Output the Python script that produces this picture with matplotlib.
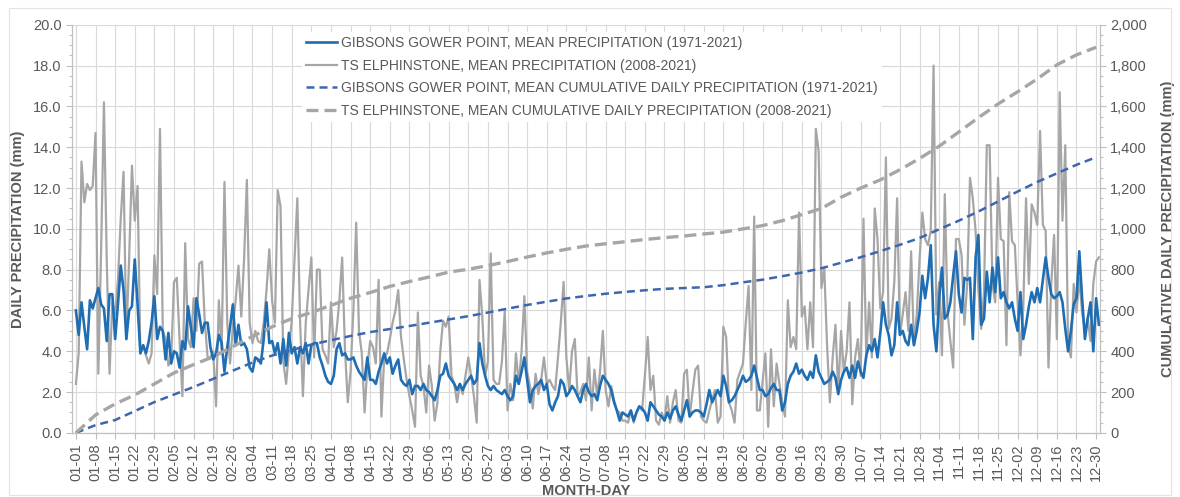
import numpy as np
import matplotlib
matplotlib.use("Agg")
import matplotlib.pyplot as plt
from matplotlib.ticker import MultipleLocator, FuncFormatter
from matplotlib.patches import Rectangle

plt.rcParams['font.family'] = ['Liberation Sans', 'DejaVu Sans']

##### data #####

# mean daily precipitation (mm), 366 days (01-01 .. 12-31, leap year)
gibsons_daily = [
    6.0, 4.8, 6.4, 5.2, 4.1, 6.5, 6.1,
    6.6, 7.1, 6.3, 6.1, 4.5, 6.8, 6.8,
    4.6, 6.3, 8.2, 7.0, 4.6, 6.0, 6.2,
    8.5, 6.3, 3.9, 4.3, 3.9, 4.5, 5.4,
    6.7, 4.6, 5.2, 5.0, 3.6, 4.9, 3.4,
    4.0, 3.9, 3.2, 4.5, 4.1, 6.2, 5.2,
    4.2, 6.6, 5.8, 4.9, 5.4, 5.4, 4.2,
    3.6, 3.9, 4.8, 4.4, 3.0, 4.2, 5.2,
    6.3, 4.3, 5.3, 4.3, 4.4, 4.1, 3.2,
    3.0, 3.7, 3.6, 3.4, 4.6, 6.4, 4.4,
    4.5, 3.9, 4.4, 3.4, 4.6, 3.3, 4.9,
    3.9, 4.2, 3.4, 4.2, 3.9, 4.4, 3.4,
    4.3, 4.4, 4.4, 3.7, 3.3, 2.8, 2.5,
    2.4, 2.8, 4.1, 4.4, 3.8, 3.9, 3.6,
    3.6, 3.7, 3.3, 3.0, 2.8, 2.6, 3.7,
    2.6, 2.6, 2.4, 3.0, 3.4, 3.9, 3.4,
    3.7, 2.9, 3.3, 3.6, 2.6, 2.4, 2.3,
    2.6, 1.9, 2.3, 2.3, 2.1, 2.4, 2.1,
    2.0, 1.8, 1.6, 2.1, 2.8, 2.9, 3.4,
    2.8, 2.6, 2.4, 2.1, 2.4, 2.1, 2.4,
    2.6, 2.8, 2.4, 2.6, 4.4, 3.4, 2.8,
    2.3, 2.1, 2.3, 2.1, 2.0, 1.9, 2.1,
    1.8, 1.6, 1.8, 2.8, 2.4, 3.0, 3.7,
    2.6, 1.5, 2.1, 2.3, 2.4, 2.6, 2.1,
    2.4, 1.4, 1.1, 1.5, 1.8, 2.6, 2.4,
    1.8, 2.0, 2.3, 2.1, 1.8, 1.5, 2.1,
    2.4, 2.0, 1.8, 1.9, 1.6, 2.3, 2.8,
    2.6, 2.4, 2.1, 1.5, 1.1, 0.6, 1.0,
    0.9, 0.8, 1.1, 0.6, 1.0, 1.3, 1.2,
    1.0, 0.6, 1.5, 1.3, 1.1, 0.9, 0.8,
    0.6, 1.0, 0.7, 1.1, 1.3, 0.9, 0.6,
    1.1, 1.6, 0.8, 1.0, 1.1, 1.1, 1.0,
    0.8, 1.4, 2.1, 1.5, 1.8, 2.1, 1.8,
    2.8, 2.3, 1.5, 1.6, 1.8, 2.1, 2.4,
    2.8, 2.5, 2.6, 2.8, 3.3, 2.7, 2.1,
    2.1, 1.8, 1.9, 2.2, 2.4, 2.1, 2.1,
    1.1, 1.5, 2.4, 2.8, 3.0, 3.4, 2.9,
    3.1, 2.8, 2.6, 3.0, 2.7, 3.8, 3.0,
    2.7, 2.4, 2.5, 2.6, 3.0, 2.7, 1.9,
    2.6, 3.0, 3.2, 2.7, 3.3, 2.7, 3.5,
    3.0, 2.7, 3.8, 4.3, 4.0, 4.6, 3.7,
    4.9, 6.4, 5.3, 4.8, 3.8, 4.3, 6.4,
    4.8, 5.0, 4.5, 4.3, 5.3, 4.3, 5.0,
    5.9, 7.7, 6.6, 7.6, 9.2, 5.3, 4.0,
    6.6, 8.1, 5.6, 5.8, 6.4, 7.7, 8.9,
    6.8, 5.9, 7.6, 7.5, 7.6, 4.6, 8.6,
    9.7, 5.3, 5.6, 7.9, 6.4, 8.1, 6.9,
    8.6, 6.6, 6.9, 6.4, 6.1, 6.4, 5.6,
    5.0, 6.9, 4.6, 5.3, 6.2, 6.9, 6.4,
    7.1, 6.4, 7.5, 8.6, 7.6, 6.8, 6.6,
    6.7, 6.9, 6.4, 5.1, 4.0, 5.0, 6.3,
    6.6, 8.9, 6.6, 4.6, 5.6, 6.4, 4.0,
    6.6, 5.3,
]

elphinstone_daily = [
    2.4, 3.9, 13.3, 11.3, 12.2, 11.9, 12.1,
    14.7, 2.9, 9.0, 16.2, 8.5, 2.9, 6.4,
    5.8, 7.5, 10.5, 12.8, 4.6, 8.6, 13.1,
    10.4, 12.1, 3.9, 4.3, 3.8, 3.4, 3.9,
    8.7, 6.8, 14.9, 5.0, 4.6, 3.3, 3.6,
    7.4, 7.6, 4.5, 1.8, 9.3, 4.6, 4.2,
    6.6, 5.0, 8.3, 8.4, 5.4, 3.7, 3.7,
    4.0, 1.3, 6.5, 4.0, 12.3, 5.4, 3.4,
    5.2, 6.5, 8.2, 5.7, 8.5, 12.4, 5.4,
    4.4, 5.0, 4.5, 4.4, 5.4, 7.0, 9.0,
    6.5, 5.4, 11.9, 11.1, 3.5, 2.4, 4.0,
    5.5, 8.5, 11.5, 5.4, 1.8, 5.4, 7.0,
    8.6, 3.7, 8.0, 8.0, 4.1, 3.8, 3.4,
    6.4, 4.2, 5.0, 6.5, 8.6, 4.1, 1.5,
    3.0, 6.0, 10.3, 5.0, 3.9, 1.0, 3.3,
    4.5, 4.2, 3.4, 7.5, 0.8, 3.7, 3.9,
    4.6, 5.4, 6.0, 7.0, 4.7, 3.6, 2.6,
    1.8, 1.1, 0.3, 5.9, 2.8, 2.3, 1.0,
    3.3, 2.3, 0.6, 1.5, 4.0, 5.5, 5.2,
    5.7, 2.8, 2.4, 1.5, 2.4, 1.9, 2.8,
    3.7, 2.8, 1.8, 0.5, 7.5, 5.7, 2.8,
    3.5, 8.8, 2.6, 2.4, 2.4, 3.5, 6.0,
    1.1, 2.4, 1.6, 3.9, 2.4, 4.0, 6.7,
    3.0, 2.3, 1.2, 2.9, 1.9, 2.6, 3.7,
    2.4, 2.6, 2.3, 2.1, 3.7, 5.4, 7.4,
    3.7, 2.1, 4.0, 4.6, 1.8, 2.0, 2.4,
    1.6, 3.7, 1.1, 3.1, 1.8, 3.0, 5.0,
    2.1, 1.3, 2.3, 1.6, 1.1, 1.0, 0.6,
    0.6, 0.5, 1.1, 0.5, 1.0, 1.3, 1.1,
    2.8, 4.7, 2.1, 2.8, 0.6, 0.4, 1.0,
    0.6, 1.8, 0.5, 1.5, 2.1, 0.6, 0.5,
    2.9, 3.1, 0.8, 2.0, 3.1, 3.3, 0.8,
    0.6, 0.5, 1.1, 1.6, 2.1, 0.5, 0.8,
    5.2, 4.7, 1.5, 1.1, 0.5, 2.6, 3.0,
    3.4, 5.4, 7.2, 2.1, 10.6, 1.1, 1.1,
    2.5, 3.9, 0.3, 4.1, 1.3, 3.4, 2.4,
    1.5, 0.8, 6.5, 4.2, 4.7, 4.1, 10.8,
    5.7, 6.2, 4.1, 6.4, 4.2, 14.9, 13.8,
    7.1, 8.1, 4.3, 1.5, 3.7, 5.3, 2.0,
    5.0, 3.0, 4.0, 6.4, 1.4, 3.7, 4.6,
    2.8, 10.5, 3.7, 6.4, 3.7, 11.0, 9.5,
    6.1, 6.9, 13.5, 5.1, 5.6, 7.4, 11.5,
    4.8, 5.8, 6.9, 5.0, 8.9, 4.3, 5.8,
    8.5, 10.8, 9.5, 9.2, 9.9, 18.0, 5.8,
    7.4, 3.8, 11.7, 5.9, 4.5, 3.2, 9.5,
    9.5, 8.7, 5.3, 7.3, 12.5, 11.5, 9.9,
    7.0, 5.1, 6.9, 14.1, 14.1, 7.3, 6.4,
    12.5, 9.5, 9.4, 4.3, 11.8, 9.4, 9.2,
    6.4, 3.8, 6.1, 11.5, 7.3, 11.2, 10.8,
    10.2, 14.8, 10.2, 9.9, 3.2, 7.3, 9.7,
    4.6, 16.7, 10.4, 14.1, 4.3, 3.7, 7.3,
    5.9, 7.6, 5.9, 5.0, 5.6, 4.5, 7.3,
    8.4, 8.6,
]

# mean cumulative precipitation (mm), read at each weekly tick
gibsons_cumulative = [
    0, 38, 63, 107, 151, 188, 225, 265, 305, 345,
    379, 406, 433, 454, 475, 494, 509, 524, 540, 556,
    572, 590, 609, 627, 643, 659, 671, 682, 691, 699,
    706, 710, 714, 724, 738, 751, 768, 786, 807, 834,
    861, 891, 922, 955, 998, 1040, 1085, 1134, 1183, 1230,
    1272, 1314, 1351,
]

elphinstone_cumulative = [
    0, 88, 142, 186, 240, 294, 335, 373, 423, 473,
    520, 560, 590, 625, 660, 688, 718, 742, 764, 788,
    802, 820, 840, 862, 882, 900, 916, 927, 937, 948,
    957, 965, 975, 984, 1000, 1016, 1040, 1070, 1100, 1155,
    1200, 1240, 1290, 1345, 1405, 1475, 1545, 1612, 1672, 1735,
    1804, 1853, 1890,
]

tick_labels = [
    '01-01', '01-08', '01-15', '01-22', '01-29', '02-05', '02-12', '02-19',
    '02-26', '03-04', '03-11', '03-18', '03-25', '04-01', '04-08', '04-15',
    '04-22', '04-29', '05-06', '05-13', '05-20', '05-27', '06-03', '06-10',
    '06-17', '06-24', '07-01', '07-08', '07-15', '07-22', '07-29', '08-05',
    '08-12', '08-19', '08-26', '09-02', '09-09', '09-16', '09-23', '09-30',
    '10-07', '10-14', '10-21', '10-28', '11-04', '11-11', '11-18', '11-25',
    '12-02', '12-09', '12-16', '12-23', '12-30',
]

labels = [
    'GIBSONS GOWER POINT, MEAN PRECIPITATION (1971-2021)',
    'TS ELPHINSTONE, MEAN PRECIPITATION (2008-2021)',
    'GIBSONS GOWER POINT, MEAN CUMULATIVE DAILY PRECIPITATION (1971-2021)',
    'TS ELPHINSTONE, MEAN CUMULATIVE DAILY PRECIPITATION (2008-2021)',
]

##### plot #####

text_col = '#595959'
grid_col = '#D9D9D9'
blue = '#1F6EB4'
blue_dash = '#3E66AE'
grey = '#A6A6A6'

days = np.arange(len(gibsons_daily))
tick_days = np.arange(len(tick_labels)) * 7

fig = plt.figure(figsize=(11.8, 4.97), dpi=100)
fig.patches.append(Rectangle((0.008, 0.004), 0.984, 0.98, transform=fig.transFigure,
                             fill=False, edgecolor='#E3E3E3', linewidth=0.8))
ax = fig.add_axes([0.061, 0.129, 0.871, 0.821])
ax2 = ax.twinx()

l2, = ax.plot(days, elphinstone_daily, color=grey, lw=1.6, zorder=3)
l1, = ax.plot(days, gibsons_daily, color=blue, lw=1.9, zorder=4)
l3, = ax2.plot(tick_days, gibsons_cumulative, color=blue_dash, lw=1.8,
               dashes=(3.2, 2.0))
l4, = ax2.plot(tick_days, elphinstone_cumulative, color=grey, lw=2.4,
               dashes=(3.6, 1.8))

ax.set_xlim(-1.4, 365.3)
ax.set_ylim(0, 20)
ax2.set_ylim(0, 2000)

ax.set_xticks(tick_days)
ax.set_xticklabels(tick_labels, rotation=90)
ax.yaxis.set_major_locator(MultipleLocator(2))
ax.yaxis.set_minor_locator(MultipleLocator(0.5))
ax.yaxis.set_major_formatter(FuncFormatter(lambda v, p: '%.1f' % v))
ax2.yaxis.set_major_locator(MultipleLocator(200))
ax2.yaxis.set_minor_locator(MultipleLocator(50))
ax2.yaxis.set_major_formatter(FuncFormatter(lambda v, p: '{:,.0f}'.format(v)))

ax.grid(True, color=grid_col, lw=0.8)
ax.set_axisbelow(True)

for a in (ax, ax2):
    for s in a.spines.values():
        s.set_color('#BFBFBF')
    a.spines['top'].set_visible(False)
    a.tick_params(axis='both', which='both', colors='#BFBFBF', labelcolor=text_col,
                  labelsize=10.5, length=4, width=0.8)
    a.tick_params(which='minor', length=2.5)

ax.set_ylabel('DAILY PRECIPITATION (mm)', fontsize=10.5, weight='bold', color=text_col,
              labelpad=6)
ax2.set_ylabel('CUMULATIVE DAILY PRECIPITATION (mm)', fontsize=10.5, weight='bold',
               color=text_col, labelpad=10)
ax.set_xlabel('MONTH-DAY', fontsize=10.5, weight='bold', color=text_col, labelpad=2)

leg = ax2.legend([l1, l2, l3, l4], labels, loc='upper left',
                 bbox_to_anchor=(0.25, 0.95), bbox_transform=fig.transFigure,
                 frameon=True, fancybox=False, edgecolor='none', framealpha=1,
                 fontsize=10, handlelength=2.2, handletextpad=0.3,
                 labelspacing=0.62, borderpad=0.3)
for t in leg.get_texts():
    t.set_color(text_col)

plt.savefig('out.png', dpi=100)
